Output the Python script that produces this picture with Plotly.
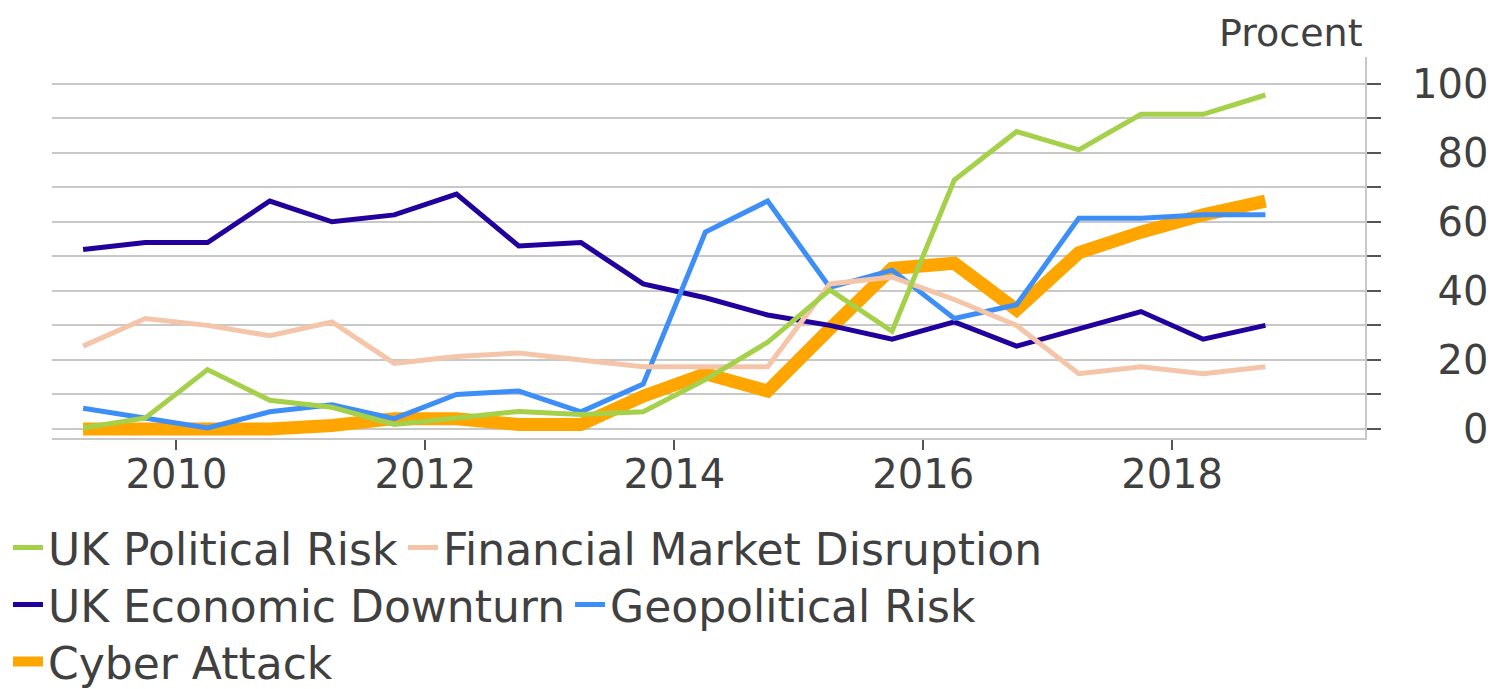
import plotly.graph_objects as go

# Half-year observation points
periods = [2009.25, 2009.75, 2010.25, 2010.75, 2011.25, 2011.75, 2012.25, 2012.75,
           2013.25, 2013.75, 2014.25, 2014.75, 2015.25, 2015.75, 2016.25, 2016.75,
           2017.25, 2017.75, 2018.25, 2018.75]

uk_political_risk = [0.3, 3.2, 17.2, 8.3, 6.3, 1.3, 3.2, 5.1, 4.2, 5.0,
                     14.3, 25.1, 40.3, 28.3, 72.1, 86.1, 80.8, 91.1, 91.1, 96.7]
financial_market_disruption = [24, 32, 30, 27, 31, 19, 21, 22, 20, 18,
                               18, 18, 42, 44, 37.5, 30, 16, 18, 16, 18]
uk_economic_downturn = [52, 54, 54, 66, 60, 62, 68, 53, 54, 42,
                        38, 33, 30, 26, 31, 24, 29, 34, 26, 30]
geopolitical_risk = [6, 3, 0.3, 5, 7, 3, 10, 11, 5, 13,
                     57, 66, 41, 46, 32, 36, 61, 61, 62, 62]
cyber_attack = [0, 0, 0, 0, 1, 3, 3, 1.3, 1.3, 9.5,
                16, 11, 29, 46.5, 48, 34.5, 51, 57, 62, 66]

x_tick_values = [2010, 2012, 2014, 2016, 2018]
x_tick_labels = ["2010", "2012", "2014", "2016", "2018"]
y_tick_values = [0, 20, 40, 60, 80, 100]
y_tick_labels = ["0", "20", "40", "60", "80", "100"]

FONT = "DejaVu Sans"
TXT = "#404040"
GRID = "#c8c8c8"
TICKC = "#555555"

W, H = 1497, 681  # page body has an 8px margin

fig = go.Figure()

# drawing order: orange at the bottom, green on top
fig.add_trace(go.Scatter(x=periods, y=cyber_attack, name="Cyber Attack", mode="lines",
                         line=dict(color="#FFA500", width=13), legend="legend3"))
fig.add_trace(go.Scatter(x=periods, y=uk_economic_downturn, name="UK Economic Downturn", mode="lines",
                         line=dict(color="#22009C", width=5), legend="legend2", legendrank=1))
fig.add_trace(go.Scatter(x=periods, y=geopolitical_risk, name="Geopolitical Risk", mode="lines",
                         line=dict(color="#3D8EF7", width=5), legend="legend2", legendrank=2))
fig.add_trace(go.Scatter(x=periods, y=financial_market_disruption, name="Financial Market Disruption",
                         mode="lines", line=dict(color="#F5C5AA", width=5), legend="legend", legendrank=2))
fig.add_trace(go.Scatter(x=periods, y=uk_political_risk, name="UK Political Risk", mode="lines",
                         line=dict(color="#A5D04A", width=5), legend="legend", legendrank=1))

pad = 3
y_labels_padded = [s.rjust(pad, "\u2007") for s in y_tick_labels]

legend_common = dict(orientation="h", xref="container", yref="container", x=0.0,
                     xanchor="left", yanchor="middle", font=dict(family=FONT, size=44, color=TXT),
                     bgcolor="rgba(0,0,0,0)", itemwidth=30, tracegroupgap=0)

fig.update_layout(
    width=W, height=H,
    margin=dict(l=44, r=140, t=49, b=251, autoexpand=False),
    paper_bgcolor="white", plot_bgcolor="white",
    font=dict(family=FONT, color=TXT),
    showlegend=True,
    legend=dict(legend_common, y=1 - 540 / H),
    legend2=dict(legend_common, y=1 - 597 / H),
    legend3=dict(legend_common, y=1 - 654 / H),
    xaxis=dict(range=[2009.0, 2019.55], tickmode="array", tickvals=x_tick_values,
               ticktext=x_tick_labels, showgrid=False, zeroline=False,
               showline=True, linecolor=GRID, linewidth=2,
               ticks="outside", ticklen=10, tickwidth=2, tickcolor=TICKC,
               tickfont=dict(family=FONT, size=40, color=TXT), ticklabelstandoff=-10),
    yaxis=dict(range=[-2.6, 107.7], side="right", tickmode="array", tickvals=y_tick_values,
               ticktext=y_labels_padded, showgrid=True, gridcolor=GRID, gridwidth=1.5,
               zeroline=False, showline=True, linecolor=GRID, linewidth=2,
               ticks="outside", ticklen=14, tickwidth=2, tickcolor=TICKC,
               tickfont=dict(family=FONT, size=40, color=TXT), ticklabelstandoff=23,
               minor=dict(tickmode="linear", tick0=0, dtick=10, ticks="outside", ticklen=14,
                          tickwidth=2, tickcolor=TICKC, showgrid=True, gridcolor=GRID,
                          gridwidth=1.5)),
    annotations=[dict(text="Procent", xref="paper", yref="paper", x=1.0, y=1.0,
                      xanchor="right", yanchor="bottom", yshift=0, showarrow=False,
                      font=dict(family=FONT, size=38, color=TXT))],
)

fig.write_html("out.html")
